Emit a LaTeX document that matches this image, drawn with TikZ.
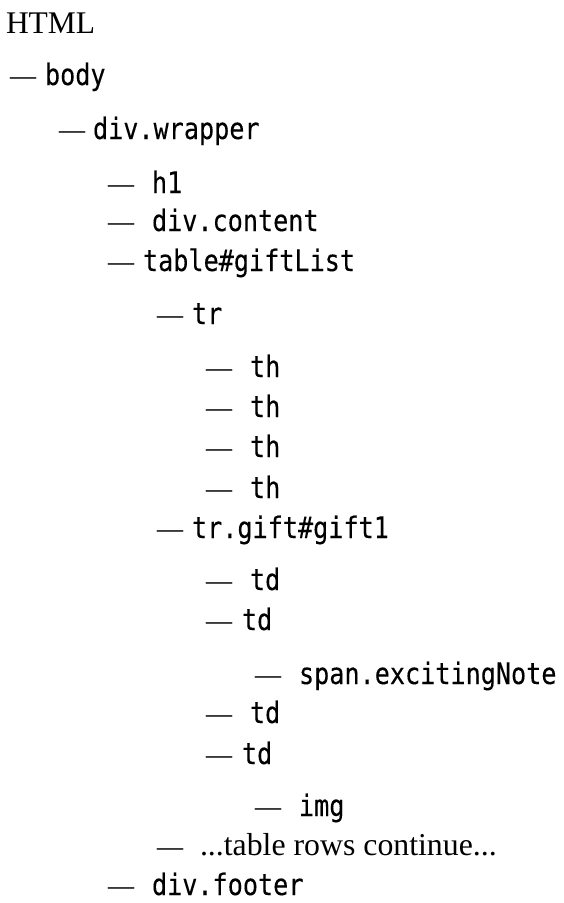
\documentclass[tikz,border=0pt]{standalone}
\usepackage{fontspec}
\setmainfont{Liberation Serif}
\newfontfamily\codefont[FakeStretch=0.85,FakeBold=0.2]{DejaVu Sans Mono}
\newfontfamily\dashfont[FakeBold=0.5]{Liberation Serif}
\begin{document}
\begin{tikzpicture}[x=1pt,y=-1pt,
  every node/.style={inner sep=0pt,outer sep=0pt,anchor=base west},
  heading/.style={font=\fontsize{31.5}{36}\selectfont},
  dashmark/.style={font=\dashfont\fontsize{26}{30}\selectfont,yshift=-1pt},
  tag/.style={font=\codefont\fontsize{29.6}{34}\selectfont,yshift=-2pt},
  prose/.style={font=\fontsize{31.8}{36}\selectfont,yshift=-1pt}]
\useasboundingbox (0,0) rectangle (564,903);
% root label
\node[heading] (html) at (6,33) {HTML};
% tree rows: dash, then element name
\node[dashmark] (d1) at (10,83) {—};   \node[tag] (body) at (45,83) {body};
\node[dashmark] (d2) at (59,137) {—};  \node[tag] (wrapper) at (93,137) {div.wrapper};
\node[dashmark] (d3) at (108,191) {—}; \node[tag] (h1) at (152,191) {h1};
\node[dashmark] (d4) at (108,229) {—}; \node[tag] (content) at (152,229) {div.content};
\node[dashmark] (d5) at (108,269) {—}; \node[tag] (table) at (143,269) {table\#giftList};
\node[dashmark] (d6) at (157,322) {—}; \node[tag] (tr) at (192,322) {tr};
\node[dashmark] (d7) at (206,375) {—}; \node[tag] (th1) at (250,375) {th};
\node[dashmark] (d8) at (206,415) {—}; \node[tag] (th2) at (250,415) {th};
\node[dashmark] (d9) at (206,455) {—}; \node[tag] (th3) at (250,455) {th};
\node[dashmark] (d10) at (206,496) {—}; \node[tag] (th4) at (250,496) {th};
\node[dashmark] (d11) at (157,536) {—}; \node[tag] (trgift) at (192,536) {tr.gift\#gift1};
\node[dashmark] (d12) at (206,588) {—}; \node[tag] (td1) at (250,588) {td};
\node[dashmark] (d13) at (206,628) {—}; \node[tag] (td2) at (242,628) {td};
\node[dashmark] (d14) at (255,682) {—}; \node[tag] (span) at (299,682) {span.excitingNote};
\node[dashmark] (d15) at (206,721) {—}; \node[tag] (td3) at (250,721) {td};
\node[dashmark] (d16) at (206,762) {—}; \node[tag] (td4) at (242,762) {td};
\node[dashmark] (d17) at (255,814) {—}; \node[tag] (img) at (299,814) {img};
\node[dashmark] (d18) at (157,854) {—}; \node[prose] (more) at (200,854) {...table rows continue...};
\node[dashmark] (d19) at (108,893) {—}; \node[tag] (footer) at (152,893) {div.footer};
\end{tikzpicture}
\end{document}
